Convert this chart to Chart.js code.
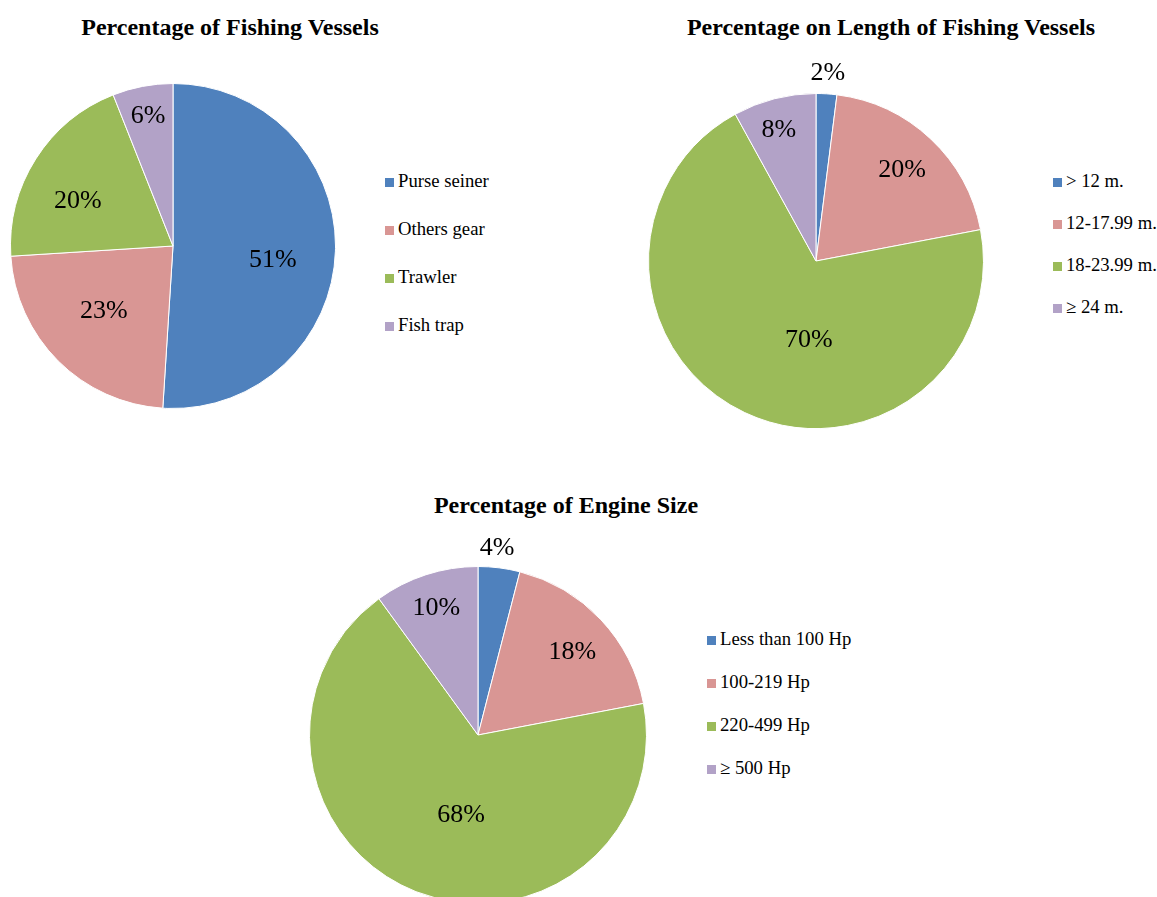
<!DOCTYPE html>
<html>
<head>
<meta charset="utf-8">
<script src="https://cdn.jsdelivr.net/npm/chart.js@4.4.0/dist/chart.umd.min.js"></script>
<style>
  body { margin: 0; background: #fff; width: 1157px; height: 897px; overflow: hidden; position: relative; font-family: "Liberation Serif", "Times New Roman", serif; }
  .title { position: absolute; font-weight: bold; font-size: 24px; line-height: 28px; color: #000; text-align: center; white-space: nowrap; transform: translateX(-50%); }
  .pie { position: absolute; }
  .legend { position: absolute; font-size: 18.7px; color: #000; }
  .legend div { position: absolute; white-space: nowrap; line-height: 19px; }
  .legend span { display: inline-block; width: 9px; height: 9px; margin-right: 4px; vertical-align: 0px; }
</style>
</head>
<body>
<div class="title" style="left:230px; top:13px">Percentage of Fishing Vessels</div>
<div class="title" style="left:891px; top:13px">Percentage on Length of Fishing Vessels</div>
<div class="title" style="left:566px; top:491px">Percentage of Engine Size</div>

<div class="pie" style="left:-30px; top:43px; width:406px; height:406px"><canvas id="c1"></canvas></div>
<div class="pie" style="left:608px; top:53px; width:416px; height:416px"><canvas id="c2"></canvas></div>
<div class="pie" style="left:269px; top:526px; width:418px; height:418px"><canvas id="c3"></canvas></div>

<div class="legend" id="l1" style="left:385px; top:171px"></div>
<div class="legend" id="l2" style="left:1053px; top:171px"></div>
<div class="legend" id="l3" style="left:707px; top:629px"></div>

<script>
// colours shared by all three pies
const colors = ['#4F81BD', '#D99694', '#9BBB59', '#B2A2C7'];

// chart 1 - vessel types
const vesselTypes = ['Purse seiner', 'Others gear', 'Trawler', 'Fish trap'];
const vesselPct = [51, 23, 20, 6];

// chart 2 - vessel length
const lengthClasses = ['> 12 m.', '12-17.99 m.', '18-23.99 m.', '\u2265 24 m.'];
const lengthPct = [2, 20, 70, 8];

// chart 3 - engine size
const engineClasses = ['Less than 100 Hp', '100-219 Hp', '220-499 Hp', '\u2265 500 Hp'];
const enginePct = [4, 18, 68, 10];

// draws the "51%" style labels, [radius factor, angle shift in deg] per slice
const pctLabels = {
  id: 'pctLabels',
  afterDatasetsDraw(chart, args, opts) {
    const ctx = chart.ctx;
    const meta = chart.getDatasetMeta(0);
    const data = chart.data.datasets[0].data;
    ctx.save();
    ctx.font = '26px "Liberation Serif", "Times New Roman", serif';
    ctx.fillStyle = '#000';
    ctx.textAlign = 'center';
    ctx.textBaseline = 'middle';
    meta.data.forEach((arc, i) => {
      const p = opts.pos[i];
      const mid = (arc.startAngle + arc.endAngle) / 2 + p[1] * Math.PI / 180;
      const r = arc.outerRadius * p[0];
      ctx.fillText(data[i] + '%', arc.x + Math.cos(mid) * r, arc.y + Math.sin(mid) * r + 1);
    });
    ctx.restore();
  }
};

function makePie(id, labels, values, pos) {
  return new Chart(document.getElementById(id), {
    type: 'pie',
    data: {
      labels: labels,
      datasets: [{
        data: values,
        backgroundColor: colors,
        borderColor: '#fff',
        borderWidth: 1,
        hoverOffset: 0
      }]
    },
    options: {
      responsive: true,
      maintainAspectRatio: false,
      animation: false,
      layout: { padding: 40 },
      plugins: {
        legend: { display: false },
        tooltip: { enabled: false },
        pctLabels: { pos: pos }
      }
    },
    plugins: [pctLabels]
  });
}

function makeLegend(id, labels, gap) {
  const el = document.getElementById(id);
  labels.forEach((txt, i) => {
    const d = document.createElement('div');
    d.style.top = (i * gap) + 'px';
    d.innerHTML = '<span style="background:' + colors[i] + '"></span>';
    d.appendChild(document.createTextNode(txt));
    el.appendChild(d);
  });
}

makePie('c1', vesselTypes, vesselPct, [[0.62, 5.6], [0.58, 2.2], [0.65, -6.8], [0.82, 0]]);
makePie('c2', lengthClasses, lengthPct, [[1.13, 0], [0.75, 0], [0.47, -20], [0.82, -1.3]]);
makePie('c3', engineClasses, enginePct, [[1.12, -1.4], [0.75, 1.4], [0.48, -9.5], [0.80, 0]]);

makeLegend('l1', vesselTypes, 48);
makeLegend('l2', lengthClasses, 42);
makeLegend('l3', engineClasses, 43);
</script>
</body>
</html>
